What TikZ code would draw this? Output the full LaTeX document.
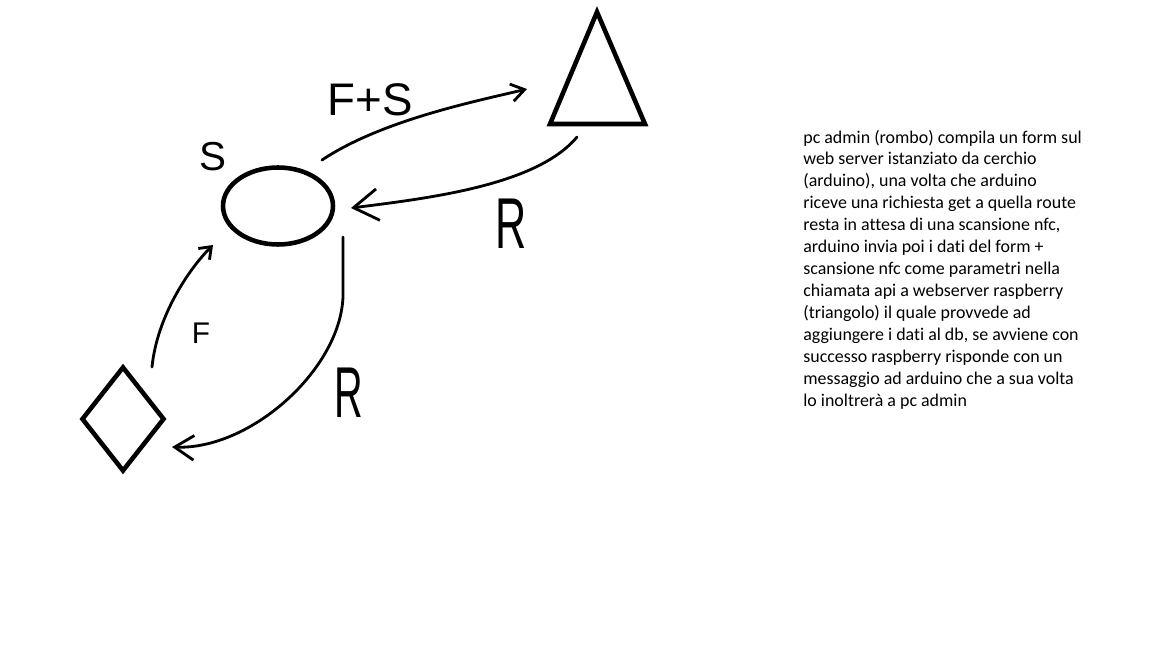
\documentclass[tikz,border=0pt]{standalone}
\usepackage{fontspec}
\setmainfont{Carlito}[Ligatures=NoCommon]
\newfontfamily\handfont{Liberation Sans}
\usetikzlibrary{shapes.geometric,arrows.meta}

\begin{document}
\begin{tikzpicture}[x=0.02cm,y=-0.02cm,
        shapeline/.style={draw,line width=2.6pt},
        link/.style={line width=1.6pt,line cap=round},
        hand/.style={inner sep=0pt,font=\handfont\fontsize{#1}{#1}\selectfont}]
        \useasboundingbox (0,0) rectangle (1152,648);
        % the three machines
        \node[shapeline,ellipse,minimum width=2.2cm,minimum height=1.54cm] (arduino) at (278,206) {};
        \node[shapeline,diamond,inner sep=0pt,minimum width=1.66cm,minimum height=2.1cm] (pcadmin) at (123,419) {};
        \draw[shapeline,line join=miter] (550,124) -- (597,12) -- (645,124) -- cycle;
        \coordinate (raspberry) at (597,87);
        % free ends of the arrows
        \coordinate (fs from) at (322,160);
        \coordinate (fs to) at (527,89);
        \coordinate (ra from) at (577,137);
        \coordinate (ra to) at (351,208);
        \coordinate (f from) at (152,367);
        \coordinate (f to) at (213,245);
        \coordinate (rb from) at (343,237);
        \coordinate (rb to) at (172,447);
        \draw[link,-{Straight Barb[length=7.5pt,width=10pt]}] (fs from) .. controls +(60,-40) and +(-50,12) .. (fs to);
        \draw[link,-{Straight Barb[length=14pt,width=18pt]}] (ra from) .. controls +(-40,48) and +(80,-10) .. (ra to);
        \draw[link,-{Straight Barb[length=6pt,width=9pt]}] (f from) .. controls +(5,-50) and +(-25,25) .. (f to);
        \draw[link,-{Straight Barb[length=11pt,width=14pt]}] (rb from) -- ++(0,60) .. controls +(-3,73) and +(78,3) .. (rb to);
        % labels
        \node[hand=26] (fs label) at (370,100) {F+S};
        \node[hand=23] (s label) at (213,157) {S};
        \node[hand=41] (ra label) at (511,224) {\scalebox{0.6}[1]{R}};
        \node[hand=41] (rb label) at (349,393) {\scalebox{0.55}[1]{R}};
        \node[hand=17] (f label) at (201,333) {F};
        % the explanation, last baseline placed
        \node[anchor=base west,align=left,inner sep=0pt,font=\fontsize{10.2}{12.47}\selectfont] (note) at (803,406)
            {pc admin (rombo) compila un form sul\\
             web server istanziato da cerchio\\
             (arduino), una volta che arduino\\
             riceve una richiesta get a quella route\\
             resta in attesa di una scansione nfc,\\
             arduino invia poi i dati del form +\\
             scansione nfc come parametri nella\\
             chiamata api a webserver raspberry\\
             (triangolo) il quale provvede ad\\
             aggiungere i dati al db, se avviene con\\
             successo raspberry risponde con un\\
             messaggio ad arduino che a sua volta\\
             lo inoltrerà a pc admin};
    \end{tikzpicture}
\end{document}
